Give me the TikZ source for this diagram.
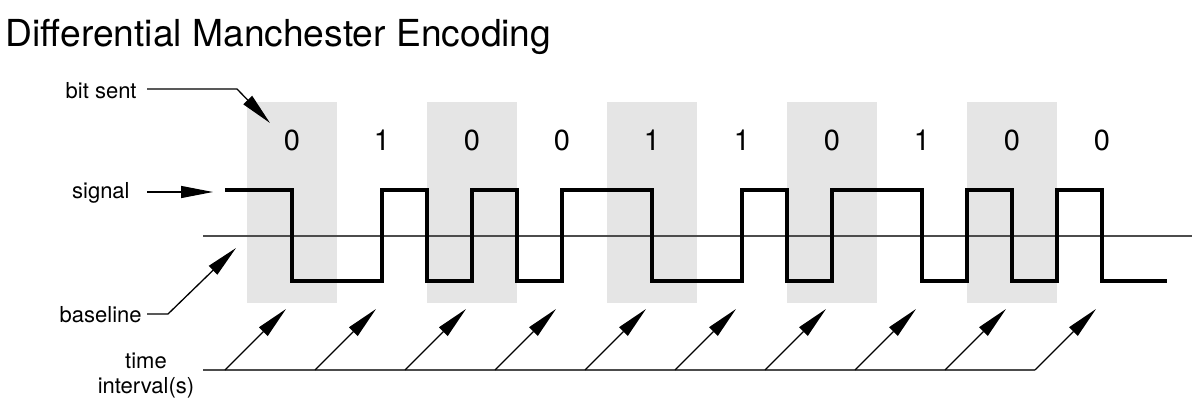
\documentclass[tikz,border=0pt]{standalone}
\usepackage{fontspec}
\setmainfont{TeX Gyre Heros}
\usetikzlibrary{arrows.meta}
\begin{document}
\begin{tikzpicture}[x=0.5pt,y=-0.5pt,
  lbl/.style={font=\fontsize{11}{12.5}\selectfont, inner sep=0pt},
  bitlbl/.style={font=\fontsize{14.5}{16}\selectfont, inner sep=0pt, anchor=base},
  band/.style={fill=black!10, draw=none},
  sig/.style={line width=2pt, line join=miter, line cap=butt},
  refline/.style={draw=black!70, line width=0.7pt},
  ptr/.style={line width=0.65pt, -{Triangle[length=16pt,width=6pt]}}]
\useasboundingbox (0,0) rectangle (1192,417);
% title
\node[anchor=base west, font=\fontsize{18.6}{20}\selectfont, inner sep=0pt] (title) at (5,47) {Differential Manchester Encoding};
% shaded intervals
\foreach \i in {0,2,4,6,8}
  \fill[band] ({247+90*\i},102) rectangle ({337+90*\i},303);
% bit values
\foreach \b [count=\i from 0] in {0,1,0,0,1,1,0,1,0,0}
  \node[bitlbl] (bit\i) at ({292+90*\i},150) {\b};
% baseline
\coordinate (blA) at (203,236);
\coordinate (blB) at (1192,236);
\draw[refline] (blA) -- (blB);
% signal
\coordinate (sigstart) at (225,190);
\draw[sig] (sigstart) -| (292,281) -| (382,190) -| (427,281) -| (472,190) -| (517,281)
  -| (562,190) -| (652,281) -| (742,190) -| (787,281) -| (832,190) -| (922,281)
  -| (967,190) -| (1012,281) -| (1057,190) -| (1102,281) -- (1167,281);
% time interval line and arrows
\coordinate (tA) at (203,370);
\coordinate (tB) at (1035,370);
\draw[refline] (tA) -- (tB);
\foreach \i in {0,...,9} {
  \coordinate (ts\i) at ({225+90*\i},370);
  \coordinate (te\i) at ({286+90*\i},309);
  \draw[ptr] (ts\i) -- (te\i);
}
% labels
\node[lbl, anchor=base east] (bitsent) at (137,98) {bit sent};
\coordinate (bsA) at (147,89);
\coordinate (bsB) at (237,89);
\coordinate (bsC) at (270,123);
\draw[ptr] (bsA) -- (bsB) -- (bsC);

\node[lbl, anchor=base east] (signal) at (130,198) {signal};
\coordinate (sgA) at (147,192);
\coordinate (sgB) at (213,192);
\draw[ptr] (sgA) -- (sgB);

\node[lbl, anchor=base east] (baseline) at (142,322) {baseline};
\coordinate (baA) at (147,314);
\coordinate (baB) at (168,314);
\coordinate (baC) at (236,248);
\draw[ptr] (baA) -- (baB) -- (baC);

\node[lbl, anchor=base, align=center] (time) at (146,393) {time\\interval(s)};
\end{tikzpicture}
\end{document}
